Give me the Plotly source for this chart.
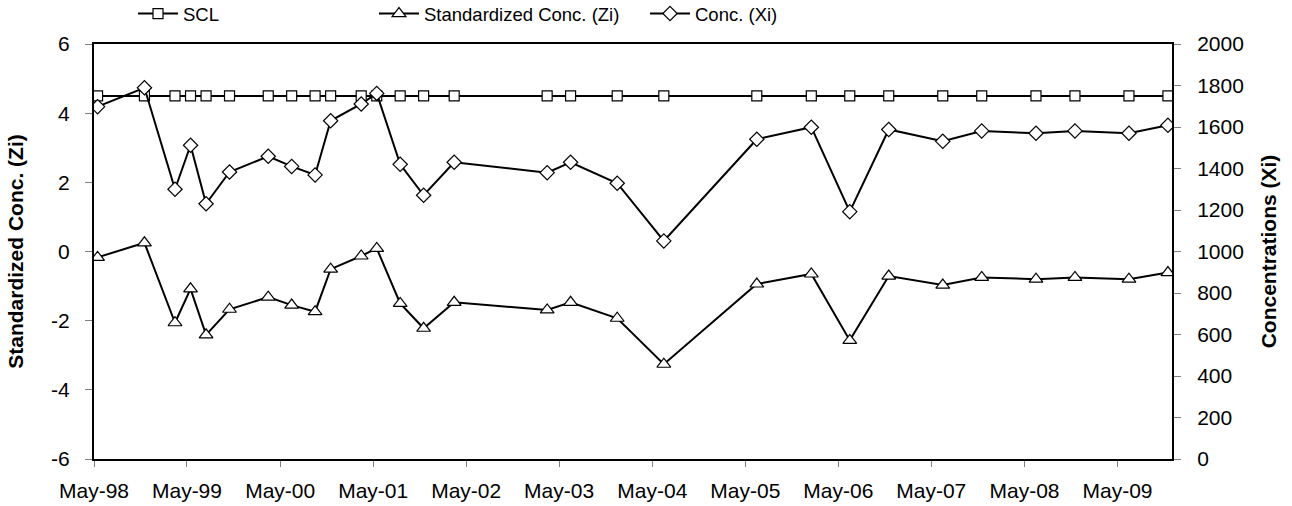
import plotly.graph_objects as go

dates = ["1998-05-15", "1998-11-15", "1999-03-15", "1999-05-15", "1999-07-15", "1999-10-15",
         "2000-03-15", "2000-06-15", "2000-09-15", "2000-11-15", "2001-03-15", "2001-05-15",
         "2001-08-15", "2001-11-15", "2002-03-15", "2003-03-15", "2003-06-15", "2003-12-15",
         "2004-06-15", "2005-06-15", "2006-01-15", "2006-06-15", "2006-11-15", "2007-06-15",
         "2007-11-15", "2008-06-15", "2008-11-15", "2009-06-15", "2009-11-15"]

scl = [4.5] * len(dates)

zi = [-0.17, 0.25, -2.06, -1.08, -2.41, -1.67, -1.32, -1.55, -1.74, -0.51, -0.13, 0.09,
      -1.50, -2.22, -1.47, -1.69, -1.47, -1.93, -3.26, -0.94, -0.65, -2.57, -0.71, -0.97,
      -0.75, -0.80, -0.75, -0.80, -0.61]

xi = [1698, 1789, 1300, 1512, 1230, 1383, 1459, 1410, 1369, 1630, 1711, 1762,
      1420, 1271, 1430, 1380, 1430, 1329, 1051, 1541, 1599, 1192, 1588, 1531,
      1581, 1570, 1581, 1570, 1608]

x_tickvals = ["1998-05-01", "1999-05-01", "2000-05-01", "2001-05-01", "2002-05-01", "2003-05-01",
              "2004-05-01", "2005-05-01", "2006-05-01", "2007-05-01", "2008-05-01", "2009-05-01"]
x_ticktext = ["May-98", "May-99", "May-00", "May-01", "May-02", "May-03",
              "May-04", "May-05", "May-06", "May-07", "May-08", "May-09"]
x_range = ["1998-05-01", "2009-12-01"]

y1_tickvals = [-6, -4, -2, 0, 2, 4, 6]
y1_ticktext = ["-6", "-4", "-2", "0", "2", "4", "6"]
y2_tickvals = [0, 200, 400, 600, 800, 1000, 1200, 1400, 1600, 1800, 2000]

FONT = "Liberation Sans, Arial, sans-serif"
W, H = 1292, 506

fig = go.Figure()
fig.add_trace(go.Scatter(
    x=dates, y=scl, name="SCL", mode="lines+markers", yaxis="y",
    line=dict(color="black", width=2),
    marker=dict(symbol="square", size=10, color="white", line=dict(color="black", width=1.2)),
    legend="legend", showlegend=True))
fig.add_trace(go.Scatter(
    x=dates, y=zi, name="Standardized Conc. (Zi)", mode="lines+markers", yaxis="y",
    line=dict(color="black", width=2),
    marker=dict(symbol="triangle-up", size=12, color="white", line=dict(color="black", width=1.2)),
    legend="legend2", showlegend=True))
fig.add_trace(go.Scatter(
    x=dates, y=xi, name="Conc. (Xi)", mode="lines+markers", yaxis="y2",
    line=dict(color="black", width=2),
    marker=dict(symbol="diamond", size=11, color="white", line=dict(color="black", width=1.2)),
    legend="legend3", showlegend=True))

leg_common = dict(orientation="h", xref="container", yref="container", yanchor="middle",
                  xanchor="left", bgcolor="rgba(0,0,0,0)", borderwidth=0, itemwidth=40,
                  font=dict(family=FONT, size=18.5, color="black"), itemclick=False,
                  visible=True)

fig.update_layout(
    width=W, height=H,
    showlegend=True,
    paper_bgcolor="white", plot_bgcolor="white",
    margin=dict(l=94, r=120, t=44, b=47, autoexpand=False),
    font=dict(family=FONT, color="black"),
    legend=dict(x=133 / W, y=1 - 14 / H, **leg_common),
    legend2=dict(x=374 / W, y=1 - 14 / H, **leg_common),
    legend3=dict(x=645 / W, y=1 - 14 / H, **leg_common),
    xaxis=dict(
        type="date", range=x_range, tickvals=x_tickvals, ticktext=x_ticktext,
        showline=True, linecolor="black", linewidth=2, mirror=True,
        ticks="outside", ticklen=6, tickcolor="#808080", tickwidth=1,
        tickfont=dict(family=FONT, size=21, color="black"),
        ticklabelstandoff=6,
        showgrid=False, zeroline=False),
    yaxis=dict(
        range=[-6, 6], tickvals=y1_tickvals, ticktext=y1_ticktext,
        showline=True, linecolor="black", linewidth=2,
        ticks="outside", ticklen=7, tickcolor="#808080", tickwidth=1,
        tickfont=dict(family=FONT, size=21, color="black"),
        ticklabelstandoff=11,
        title=dict(text="<b>Standardized Conc. (Zi)</b>", standoff=22,
                   font=dict(family=FONT, size=21, color="black")),
        showgrid=False, zeroline=False),
    yaxis2=dict(
        range=[0, 2000], tickvals=y2_tickvals,
        overlaying="y", side="right",
        showline=True, linecolor="black", linewidth=2,
        ticks="outside", ticklen=7, tickcolor="#808080", tickwidth=1,
        tickfont=dict(family=FONT, size=21, color="black"),
        ticklabelstandoff=12,
        title=dict(text="<b>Concentrations (Xi)</b>", standoff=18,
                   font=dict(family=FONT, size=21, color="black")),
        showgrid=False, zeroline=False),
)

fig.write_html("out.html", config={"displayModeBar": False},
               post_script="document.body.style.margin='0';document.body.style.padding='0';")
